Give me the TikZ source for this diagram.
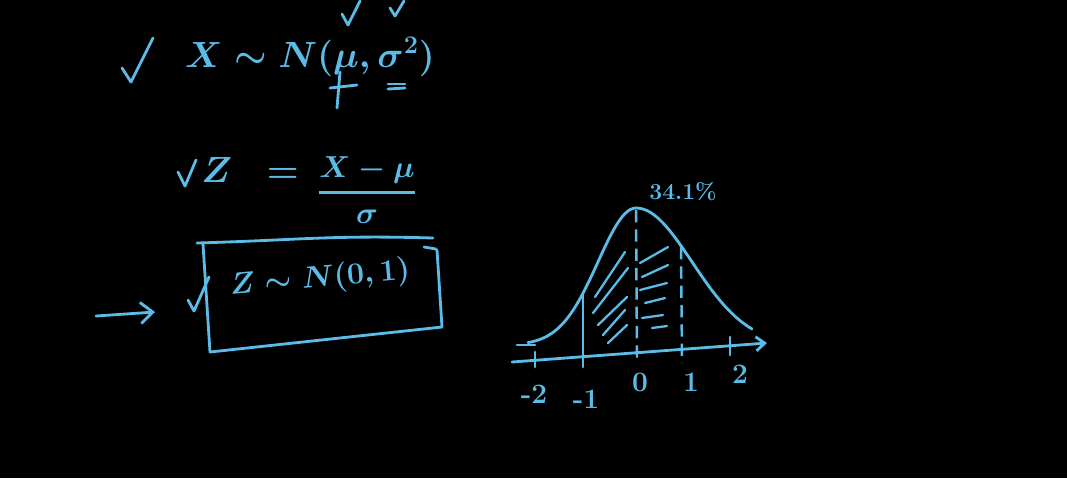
\documentclass[tikz,border=0pt]{standalone}
\usepackage{amsmath,amssymb}
\usetikzlibrary{positioning,calc}
\usetikzlibrary{arrows.meta}
\definecolor{Chalk}{RGB}{92,188,232}
\definecolor{Board}{RGB}{0,0,0}
\tikzset{
  ink/.style={draw=Chalk,line width=1.6pt,line cap=round,line join=round},
  hatch/.style={draw=Chalk,line width=1.3pt,line cap=round},
  guide/.style={draw=Chalk,line width=1.4pt,dash pattern=on 7pt off 4pt},
  eqn/.style={text=Chalk,inner sep=0pt,font=\fontsize{#1}{#1}\selectfont\boldmath},
  eqn/.default=20,
}
\tikzset{ticklab/.style={text=Chalk,inner sep=0pt,font=\fontsize{16}{19}\selectfont\bfseries}, barb/.style={-{Straight Barb[length=7pt,width=12pt]}}}

\begin{document}
\begin{tikzpicture}[x=0.02cm,y=-0.02cm]
\fill[Board] (0,0) rectangle (1067,478);
\useasboundingbox (0,0) rectangle (1067,478);
% X ~ N(mu, sigma^2)
\draw[ink] (122,68) -- (131,82) -- (153,38);
\node[eqn=20] (xdist) at (310,57) {$X \sim N(\mu,\sigma^2)$};
\draw[ink] (342,14) -- (348,25) -- (360,1);
\draw[ink] (390,8) -- (395,16) -- (404,1);
\draw[ink] (330,88) -- (357,85);
\draw[ink] (340,72) -- (337,108);
\draw[ink] (388,84) -- (405,84);
\draw[ink] (388,89) -- (405,88);
% Z = (X - mu)/sigma
\draw[ink] (178,172) -- (185,186) -- (196,160);
\node[eqn=20] (zeq) at (250,170) {$Z\;\;=$};
\node[eqn=18] (zfrac) at (367,190) {$\genfrac{}{}{1.4pt}{0}{X-\mu}{\sigma}$};
% boxed result
\draw[ink] (197,243) .. controls (300,240) and (330,235) .. (433,238);
\draw[ink] (203,244) -- (210,352) -- (442,327) -- (437,250);
\draw[ink] (424,247) -- (436,249);
\draw[ink] (188,300) -- (194,311) -- (209,277);
\node[eqn=18,rotate=5] (zstd) at (320,279) {$Z \sim N(0,1)$};
\coordinate (arrtail) at (96,316);
\coordinate (arrhead) at (155,312);
\draw[ink,barb] (arrtail) -- (arrhead);
% bell curve
\draw[ink] plot[domain=528:636,samples=40] (\x,{345-137*exp(-0.5*((\x-636)/38)^2)});
\draw[ink] plot[domain=636:752,samples=40] (\x,{345-137*exp(-0.5*((\x-636)/56)^2)});
\coordinate (axl) at (512,362);
\coordinate (axr) at (767,343);
\draw[ink,-{Straight Barb[length=5pt,width=8pt]}] (axl) -- (axr);
\draw[ink] (517,345) -- (535,345);
\draw[ink] (535,352) -- (535,367);
\draw[ink] (583,295) -- (583,367);
\draw[guide] (636,210) -- (637,360);
\draw[guide] (681,247) -- (682,363);
\draw[ink] (730,337) -- (730,355);
\foreach \a/\b/\c/\d in {595/297/625/252, 593/313/628/268, 598/325/627/297, 603/335/625/310, 608/343/627/325}
  \draw[hatch] (\a,\b) -- (\c,\d);
\foreach \a/\b/\c/\d in {640/263/668/247, 642/277/668/265, 640/290/667/283, 645/303/665/298, 642/318/663/315, 652/328/667/326}
  \draw[hatch] (\a,\b) -- (\c,\d);
\node[ticklab] (lm2) at (534,394) {-2};
\node[ticklab] (lm1) at (586,399) {-1};
\node[ticklab] (l0) at (640,382) {0};
\node[ticklab] (l1) at (691,382) {1};
\node[ticklab] (l2) at (740,374) {2};
\node[text=Chalk,inner sep=0pt,font=\fontsize{13}{16}\selectfont\bfseries] (pct) at (683,192) {34.1\%};
\end{tikzpicture}
\end{document}
